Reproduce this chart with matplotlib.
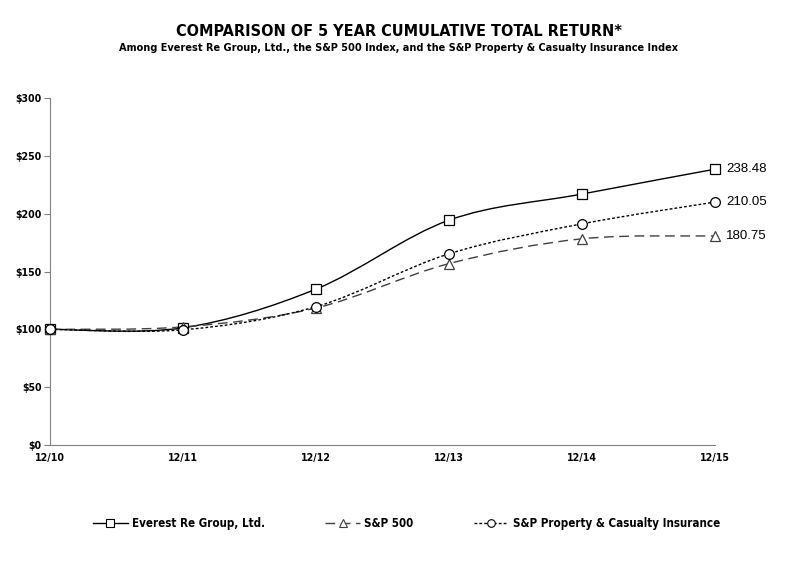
import matplotlib.pyplot as plt
from matplotlib.path import Path
from matplotlib.patches import PathPatch
from matplotlib.lines import Line2D
from matplotlib import font_manager

periods = ["12/10", "12/11", "12/12", "12/13", "12/14", "12/15"]
everest = [100.00, 101.3, 134.8, 194.4, 217.0, 238.48]
sp500 = [100.00, 102.11, 118.45, 156.82, 178.29, 180.75]
sp_pc = [100.00, 99.6, 119.6, 165.3, 191.2, 210.05]
y_ticks = [0, 50, 100, 150, 200, 250, 300]

# look for a narrow / condensed bold sans, like Arial Narrow in the original
narrow_file = None
for f in font_manager.fontManager.ttflist:
    fn = f.fname.lower()
    if ("narrow" in fn or "condensed" in fn) and "bold" in fn and "oblique" not in fn and "italic" not in fn:
        if "mono" not in fn and "serif" not in fn.replace("sans", ""):
            narrow_file = f.fname
            break

plt.rcParams["font.family"] = ["Liberation Sans", "DejaVu Sans"]
if narrow_file:
    bold = font_manager.FontProperties(fname=narrow_file)
    scale = 1.0
else:
    bold = font_manager.FontProperties(family=["Liberation Sans", "DejaVu Sans"], weight="bold")
    scale = 0.9


def fp(size):
    p = bold.copy()
    p.set_size(size * scale)
    return p


def smooth_path(xs, ys):
    # excel-like smoothed line as cubic bezier segments
    pts = list(zip(xs, ys))
    verts = [pts[0]]
    codes = [Path.MOVETO]
    n = len(pts)
    for i in range(n - 1):
        p0 = pts[i - 1] if i > 0 else pts[i]
        p1 = pts[i]
        p2 = pts[i + 1]
        p3 = pts[i + 2] if i + 2 < n else pts[i + 1]
        c1 = (p1[0] + (p2[0] - p0[0]) / 6, p1[1] + (p2[1] - p0[1]) / 6)
        c2 = (p2[0] - (p3[0] - p1[0]) / 6, p2[1] - (p3[1] - p1[1]) / 6)
        verts += [c1, c2, p2]
        codes += [Path.CURVE4] * 3
    return Path(verts, codes)


fig = plt.figure(figsize=(7.9, 5.66), dpi=100)
ax = fig.add_axes([0.0633, 0.2138, 0.8418, 0.613])

x = list(range(len(periods)))
series = [
    (everest, "Everest Re Group, Ltd.", "s", "black", None),
    (sp500, "S&P 500", "^", "#404040", (0, (7, 4))),
    (sp_pc, "S&P Property & Casualty Insurance", "o", "black", (0, (2, 1.5))),
]
handles = []
for vals, label, mk, col, dash in series:
    patch = PathPatch(smooth_path(x, vals), facecolor="none", edgecolor=col,
                      lw=1.0, linestyle=dash if dash else "-")
    ax.add_patch(patch)
    ax.plot(x, vals, linestyle="none", marker=mk, markersize=7.0, clip_on=False,
            markerfacecolor="white", markeredgecolor=col, markeredgewidth=0.9, zorder=3)
    ax.annotate(f"{vals[-1]:.2f}", (x[-1], vals[-1]), xytext=(8, 0),
                textcoords="offset points", va="center", ha="left",
                fontsize=9.5, annotation_clip=False)
    handles.append(Line2D([0], [0], color=col, lw=1.0,
                          linestyle=dash if dash else "-", marker=mk, markersize=5.5,
                          markerfacecolor="white", markeredgecolor=col, markeredgewidth=0.8,
                          label=label))

ax.set_xlim(0, len(periods) - 1)
ax.set_ylim(0, 300)
ax.set_xticks(x)
ax.set_xticklabels(periods)
ax.set_yticks(y_ticks)
ax.set_yticklabels([f"${v}" for v in y_ticks])
for lab in ax.get_xticklabels() + ax.get_yticklabels():
    lab.set_fontproperties(fp(7.6))
ax.tick_params(axis="y", length=4, color="#808080", pad=2)
ax.tick_params(axis="x", length=0, pad=6)
for s in ["top", "right"]:
    ax.spines[s].set_visible(False)
for s in ["left", "bottom"]:
    ax.spines[s].set_color("#808080")

fig.text(0.505, 0.944, "COMPARISON OF 5 YEAR CUMULATIVE TOTAL RETURN*",
         ha="center", va="center", fontproperties=fp(11.6))
fig.text(0.505, 0.916, "Among Everest Re Group, Ltd., the S&P 500 Index, and the S&P Property & Casualty Insurance Index",
         ha="center", va="center", fontproperties=fp(7.8))

fig.legend(handles=handles, loc="center", bbox_to_anchor=(0.5146, 0.075), ncol=3,
           frameon=False, handlelength=3, handletextpad=0.4, columnspacing=5.2,
           prop=fp(8.3))

fig.savefig("out.png", dpi=100)
